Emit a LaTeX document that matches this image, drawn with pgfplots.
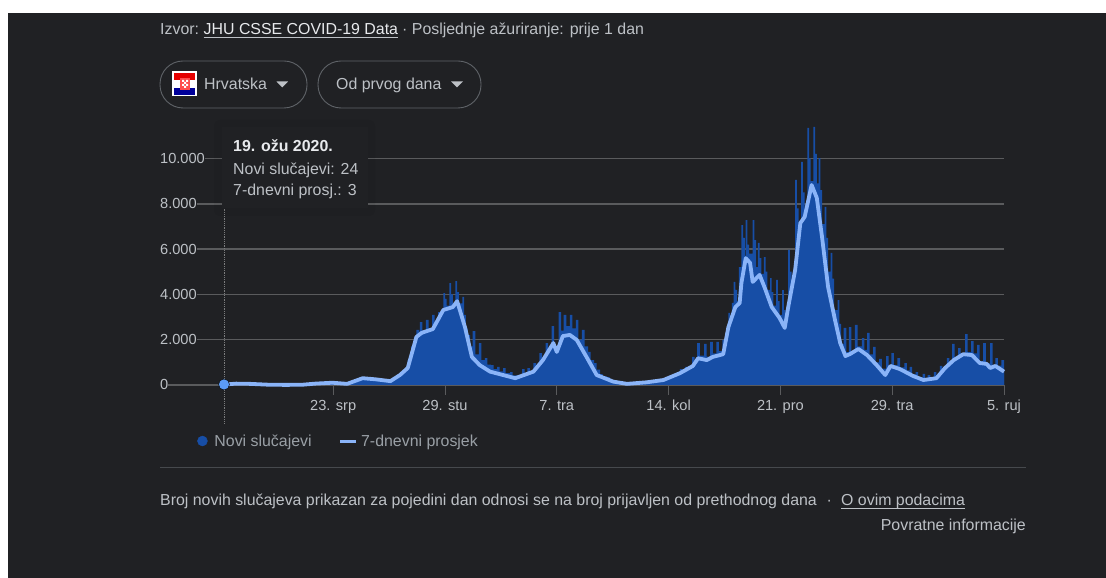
\documentclass[border=0pt]{standalone}
\usepackage{pgfplots}
\pgfplotsset{compat=1.18}
\usepackage{fontspec}
\setmainfont{Liberation Sans}
\definecolor{bg}{HTML}{202124}
\definecolor{gridc}{HTML}{5A5B5D}
\definecolor{areac}{HTML}{174EA6}
\definecolor{linec}{HTML}{8AB4F8}
\definecolor{dotc}{HTML}{5B9BF6}
\definecolor{txt}{HTML}{BDC1C6}
\definecolor{txtb}{HTML}{E8EAED}
\definecolor{legt}{HTML}{9AA0A6}
\definecolor{pill}{HTML}{5F6368}
\newcommand{\fs}[1]{\fontsize{#1}{#1}\selectfont}
\begin{document}
\begin{tikzpicture}
\useasboundingbox (0,0) rectangle (1106pt,578pt);
\fill[white] (0,0) rectangle (1106pt,578pt);
\fill[bg] (8pt,0) rectangle (1106pt,565pt);
\begin{axis}[
  at={(160pt,193pt)}, anchor=south west,
  scale only axis, width=844pt, height=260.5pt,
  xmin=-73.85, xmax=900, ymin=0, ymax=11500,
  clip=false,
  axis line style={draw=none},
  xtick={126,255,384,513,642,771,900},
  xticklabels={23. srp,29. stu,7. tra,14. kol,21. pro,29. tra,5. ruj},
  ytick={0,2000,4000,6000,8000,10000},
  yticklabels={0,2.000,4.000,6.000,8.000,10.000},
  scaled y ticks=false,
  ymajorgrids,
  grid style={gridc,line width=1.6pt},
  tick align=outside,
  major tick length=10pt,
  x tick style={gridc,line width=1pt},
  y tick style={draw=none},
  ytick pos=left, xtick pos=bottom,
  xticklabel style={font=\fs{14.6}, text=txt, inner sep=0pt, yshift=-5pt},
  yticklabel style={font=\fs{14.6}, text=txt, anchor=west, fill=bg, inner ysep=1pt, inner xsep=0pt, xshift=10pt, yshift=-2pt},
  typeset ticklabels with strut,
  legend columns=2,
  legend style={at={(0.0439,-0.215)}, anchor=west, draw=none, fill=none, text=legt, font=\fs{15.9}, inner sep=0pt, /tikz/every even column/.append style={column sep=25pt}},
]
\addplot[const plot mark left, fill=areac, draw=none, forget plot] coordinates {
(0,24)(7,50)(14,70)(30,40)(50,10)(70,5)(90,10)(105,60)(125,100)(142,60)(160,300)(175,250)(192,170)(203,440)(208,700)(212,1100)(215,1300)(216,1700)(219,2100)(222,2430)(225,2350)(226,2780)(229,2400)(233,2870)(236,2500)(240,3090)(243,2800)(247,3220)(250,3100)(253,4060)(255,3800)(257,3500)(260,4500)(262,4000)(264,3600)(267,4590)(269,4100)(271,3600)(275,3890)(277,3100)(279,2500)(281,2200)(284,1700)(287,2380)(290,1350)(294,1850)(297,1100)(301,1190)(304,900)(308,880)(311,700)(315,800)(318,600)(322,750)(325,520)(330,570)(333,430)(337,430)(340,350)(344,700)(347,400)(350,750)(353,520)(357,970)(360,700)(364,1410)(367,1000)(371,1850)(374,1400)(378,2600)(381,1700)(386,3220)(389,2400)(392,3090)(395,2600)(399,3090)(402,2500)(406,2870)(409,2000)(413,2430)(416,1700)(420,1460)(423,1100)(427,970)(430,680)(434,480)(437,380)(442,350)(445,200)(450,220)(453,130)(465,50)(488,110)(495,140)(498,130)(507,220)(515,300)(520,420)(526,700)(529,560)(532,800)(535,680)(540,1240)(543,950)(546,1850)(549,1300)(554,1810)(557,1250)(561,1900)(564,1400)(568,1900)(571,1500)(575,1990)(578,1500)(582,3180)(584,2700)(586,3620)(588,4550)(590,4200)(592,3700)(594,5200)(597,7060)(599,6500)(601,5700)(602,7280)(604,6200)(606,5800)(610,7280)(612,6400)(614,5200)(616,6270)(618,5600)(620,4900)(623,5650)(625,5000)(627,4200)(630,4720)(632,4100)(634,3500)(637,4640)(639,3700)(641,3100)(644,4190)(646,3300)(648,2700)(651,5960)(653,5000)(655,4300)(659,9050)(661,7800)(663,6400)(666,9850)(668,8500)(670,7800)(673,11350)(675,10000)(677,9000)(680,11400)(682,10200)(684,8900)(686,10020)(688,8600)(690,7100)(693,7860)(695,6500)(697,5000)(700,5830)(702,4700)(704,3300)(708,3750)(710,2700)(712,1800)(715,2520)(718,1450)(721,2560)(724,1500)(728,2650)(731,1700)(736,2070)(739,1550)(742,2300)(745,1350)(749,1680)(752,1000)(756,1150)(759,720)(764,1280)(767,850)(770,1410)(773,880)(777,1190)(780,780)(785,970)(788,650)(791,800)(794,480)(798,570)(801,340)(806,490)(809,260)(812,440)(815,260)(819,570)(822,320)(826,840)(829,630)(834,1190)(837,900)(840,1810)(843,1200)(847,1630)(850,1400)(855,2250)(858,1450)(862,1940)(865,1400)(869,1770)(872,1050)(876,1850)(879,950)(884,1850)(887,800)(890,1190)(893,850)(897,1100)(900,640)
} \closedcycle;
\addplot[fill=areac, draw=none, forget plot] coordinates {
(0,3)(7,40)(14,60)(30,50)(50,15)(70,5)(90,10)(105,60)(125,100)(142,50)(160,300)(175,250)(192,170)(203,440)(212,750)(222,2120)(228,2300)(241,2470)(253,3310)(264,3440)(269,3700)(278,2560)(286,1240)(295,880)(307,590)(318,480)(336,300)(357,590)(368,1100)(380,1850)(384,1460)(391,2160)(399,2210)(407,1990)(419,1190)(430,440)(449,150)(465,50)(488,120)(507,220)(526,520)(541,840)(547,1180)(557,1100)(564,1240)(576,1360)(582,2560)(590,3440)(595,3620)(597,4500)(602,5600)(607,5390)(610,4550)(618,4860)(624,4280)(632,3440)(641,2960)(647,2520)(651,3440)(659,5080)(665,7150)(670,7420)(678,8830)(684,8260)(690,6540)(697,4330)(705,2870)(711,1850)(717,1280)(722,1360)(732,1590)(742,1320)(753,880)(763,440)(769,840)(780,700)(795,400)(807,220)(822,300)(832,750)(842,1100)(853,1360)(863,1320)(872,970)(880,930)(884,750)(890,840)(900,590)
} \closedcycle;
\addplot[gridc!80!white, line width=0.8pt, densely dotted, forget plot] coordinates {(0,-1700)(0,8000)};
\addplot[linec, line width=3.8pt, line join=round, forget plot] coordinates {
(0,3)(7,40)(14,60)(30,50)(50,15)(70,5)(90,10)(105,60)(125,100)(142,50)(160,300)(175,250)(192,170)(203,440)(212,750)(222,2120)(228,2300)(241,2470)(253,3310)(264,3440)(269,3700)(278,2560)(286,1240)(295,880)(307,590)(318,480)(336,300)(357,590)(368,1100)(380,1850)(384,1460)(391,2160)(399,2210)(407,1990)(419,1190)(430,440)(449,150)(465,50)(488,120)(507,220)(526,520)(541,840)(547,1180)(557,1100)(564,1240)(576,1360)(582,2560)(590,3440)(595,3620)(597,4500)(602,5600)(607,5390)(610,4550)(618,4860)(624,4280)(632,3440)(641,2960)(647,2520)(651,3440)(659,5080)(665,7150)(670,7420)(678,8830)(684,8260)(690,6540)(697,4330)(705,2870)(711,1850)(717,1280)(722,1360)(732,1590)(742,1320)(753,880)(763,440)(769,840)(780,700)(795,400)(807,220)(822,300)(832,750)(842,1100)(853,1360)(863,1320)(872,970)(880,930)(884,750)(890,840)(900,590)
};
\addplot[only marks, mark=*, mark size=5.5pt, mark options={fill=dotc, draw=none}, forget plot] coordinates {(0,24)};
\addlegendimage{legend image code/.code={\fill[areac] (0pt,0pt) circle (5pt); \path[draw=none,fill=none] (0pt,0pt) -- (10pt,0pt);}}
\addlegendentry{Novi slučajevi}
\addlegendimage{legend image code/.code={\draw[linec, line width=3pt] (0pt,0pt) -- (16pt,0pt); \path[draw=none,fill=none] (0pt,0pt) -- (19pt,0pt);}}
\addlegendentry{7-dnevni prosjek}
\end{axis}
\begin{scope}[x=1pt,y=-1pt,yshift=578pt]
  \tikzset{t/.style={anchor=base west, inner sep=0pt, text=txt, font=\fs{15.9}}}
  % header
  \node[t] at (160,34.5) {Izvor:};
  \node[t, text=txtb] at (203.5,34.5) {JHU CSSE COVID-19 Data};
  \draw[txt, line width=0.8pt] (203.5,37) -- (398,37);
  \node[t] at (402,34.5) {· Posljednje ažuriranje: prije 1 dan};
  % pills
  \draw[pill, line width=0.9pt, rounded corners=23pt] (160,61) rectangle (307,108);
  \draw[pill, line width=0.9pt, rounded corners=23pt] (318,61) rectangle (481,108);
  \fill[white] (172,71) rectangle (197,96);
  \fill[red!90!black] (174,73) rectangle (195,80);
  \fill[blue!60!black] (174,88) rectangle (195,95);
  \fill[red!70!white] (180,78) rectangle (190,90);
  \fill[white] (182,80) rectangle (184,82) (186,80) rectangle (188,82) (184,82) rectangle (186,84) (182,84) rectangle (184,86) (186,84) rectangle (188,86) (184,86) rectangle (186,88);
  \node[t] at (204,89.5) {Hrvatska};
  \node[t] at (336,89.5) {Od prvog dana};
  \fill[txt] (276.5,81.5) -- (288,81.5) -- (282.25,87.5) -- cycle;
  \fill[txt] (451,81.5) -- (463,81.5) -- (457,87.5) -- cycle;
  % tooltip
  \fill[black, opacity=.05, rounded corners=6pt] (214,120) rectangle (375,216);
  \fill[bg] (222,127) rectangle (368,208);
  \node[t, text=txtb, font=\fs{15.9}\bfseries] at (233,151.5) {19. ožu 2020.};
  \node[t] at (233,174.5) {Novi slučajevi: 24};
  \node[t] at (233,195.5) {7-dnevni prosj.: 3};
  % footer
  \draw[pill!60!bg, line width=1pt] (160,468) -- (1026,468);
  \node[t] at (160,505.5) {Broj novih slučajeva prikazan za pojedini dan odnosi se na broj prijavljen od prethodnog dana};
  \node[t] at (826.5,505.5) {·};
  \node[t] at (841,505.5) {O ovim podacima};
  \draw[txt, line width=0.8pt] (841,508) -- (965,508);
  \node[t, anchor=base east] at (1026,530.5) {Povratne informacije};
\end{scope}
\end{tikzpicture}
\end{document}
